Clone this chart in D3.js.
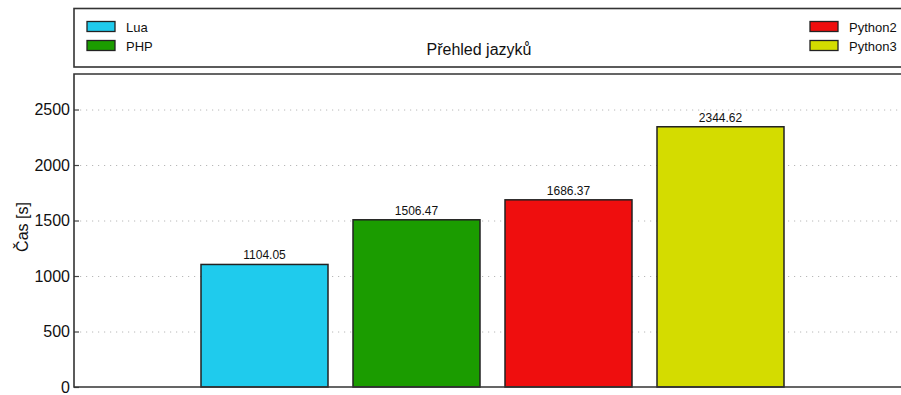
<!DOCTYPE html>
<html>
<head>
<meta charset="utf-8">
<script src="https://cdn.jsdelivr.net/npm/d3@7"></script>
<style>
html,body{margin:0;padding:0;background:#fff;}
svg{display:block;font-family:"Liberation Sans",Arial,Helvetica,sans-serif;}
</style>
</head>
<body>
<svg id="chart" width="901" height="395"></svg>
<script>
const categories = ["Lua", "PHP", "Python2", "Python3"];
const values = [1104.05, 1506.47, 1686.37, 2344.62];
const colors = ["#1fcbed", "#1b9c00", "#ef0e0e", "#d4dc00"];
const yTicks = [0, 500, 1000, 1500, 2000, 2500];
const title = "Přehled jazyků";
const yLabel = "Čas [s]";
const yMax = 2820;

const svg = d3.select("#chart");
const W = 901, H = 395;
const plot = {left: 74, top: 74, right: 905, bottom: 387};

const x = d3.scaleBand()
  .domain(categories)
  .range([188.5, 796.5])
  .paddingInner(25/152)
  .paddingOuter(12.5/152);

const y = d3.scaleLinear().domain([0, yMax]).range([plot.bottom, plot.top]);

// grid lines
svg.append("g").selectAll("line")
  .data(yTicks.filter(d => d > 0))
  .join("line")
  .attr("x1", plot.left + 6).attr("x2", plot.right)
  .attr("y1", d => y(d) + 0.5).attr("y2", d => y(d) + 0.5)
  .attr("stroke", "#b8b8b8").attr("stroke-width", 1)
  .attr("stroke-dasharray", "1.2,4.8");

// y axis
const yAxis = d3.axisLeft(y).tickValues(yTicks).tickSize(-5).tickPadding(4).tickFormat(d3.format("d"));
const gy = svg.append("g").attr("transform", `translate(${plot.left},0)`).call(yAxis);
gy.select(".domain").remove();
gy.selectAll(".tick line").attr("stroke", "#444").attr("stroke-width", 1.2);
gy.selectAll(".tick text").attr("font-size", "16px").attr("fill", "#111")
  .attr("font-family", "'Liberation Sans',Arial,sans-serif");

// bars
svg.append("g").selectAll("rect")
  .data(values)
  .join("rect")
  .attr("x", (d, i) => x(categories[i]))
  .attr("y", d => y(d))
  .attr("width", x.bandwidth())
  .attr("height", d => y(0) - y(d))
  .attr("fill", (d, i) => colors[i])
  .attr("stroke", "#222").attr("stroke-width", 1.5);

// value labels
svg.append("g").selectAll("text")
  .data(values)
  .join("text")
  .attr("x", (d, i) => x(categories[i]) + x.bandwidth() / 2)
  .attr("y", d => y(d) - 5)
  .attr("text-anchor", "middle")
  .attr("font-size", "12px").attr("fill", "#111")
  .text(d => d.toFixed(2));

// plot frame: left, top, bottom
svg.append("path")
  .attr("d", `M${plot.right},${plot.top}H${plot.left}V${plot.bottom}H${plot.right}`)
  .attr("fill", "none").attr("stroke", "#333").attr("stroke-width", 1.6);

// y label
svg.append("text")
  .attr("transform", `translate(28,227) rotate(-90)`)
  .attr("text-anchor", "middle")
  .attr("font-size", "16px").attr("fill", "#111")
  .text(yLabel);

// legend box
svg.append("rect")
  .attr("x", 74).attr("y", 8.5).attr("width", 840).attr("height", 58.5)
  .attr("fill", "#fff").attr("stroke", "#333").attr("stroke-width", 1.6);

svg.append("text")
  .attr("x", 479).attr("y", 55)
  .attr("text-anchor", "middle")
  .attr("font-size", "16px").attr("fill", "#111")
  .text(title);

const legendPos = [
  {x: 87, y: 21.5}, {x: 87, y: 40.5},
  {x: 810, y: 21.5}, {x: 810, y: 40.5}
];
const lg = svg.append("g").selectAll("g")
  .data(categories)
  .join("g")
  .attr("transform", (d, i) => `translate(${legendPos[i].x},${legendPos[i].y})`);
lg.append("rect")
  .attr("width", 28).attr("height", 10)
  .attr("fill", (d, i) => colors[i])
  .attr("stroke", "#222").attr("stroke-width", 1.3);
lg.append("text")
  .attr("x", 39).attr("y", 10)
  .attr("font-size", "13px").attr("fill", "#111")
  .text(d => d);
</script>
</body>
</html>
